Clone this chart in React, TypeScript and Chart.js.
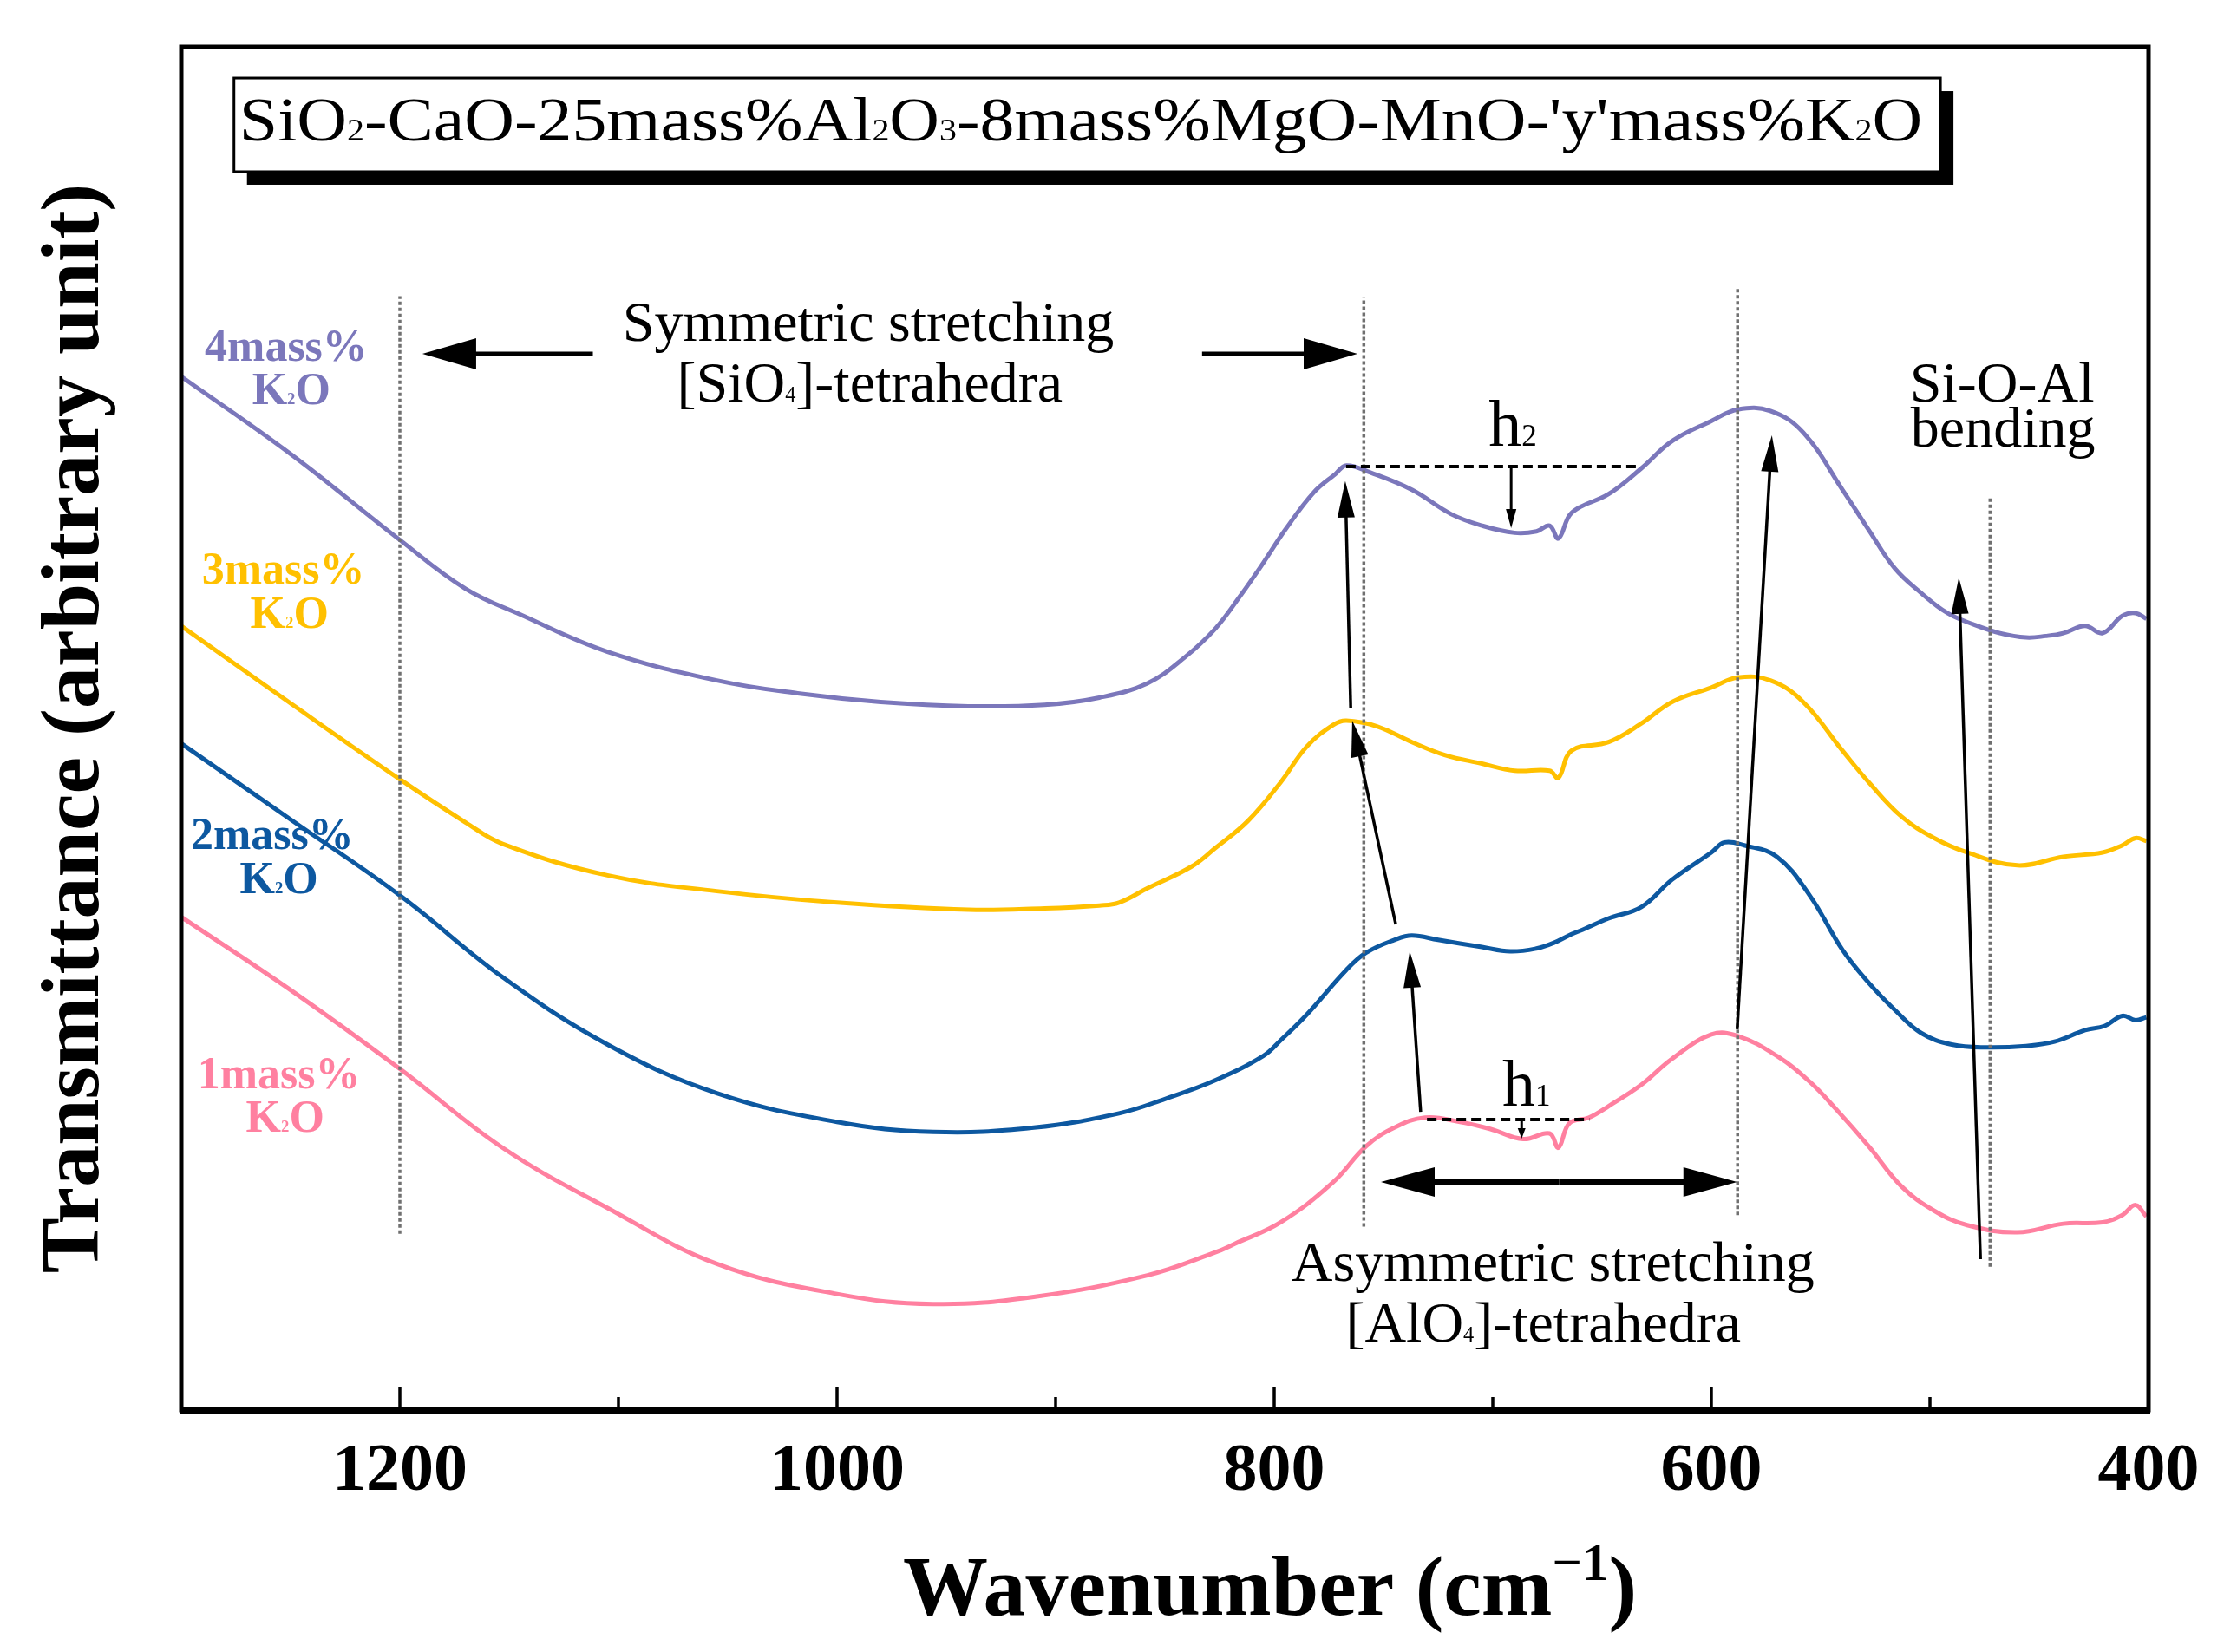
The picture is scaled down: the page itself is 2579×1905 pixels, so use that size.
import React, { useEffect, useRef } from 'react';
import { Chart, registerables } from 'chart.js';

Chart.register(...registerables);

const FONT = "'Liberation Serif', 'Times New Roman', serif";

// ---- series data (wavenumber cm-1, transmittance arbitrary units) ----
const wn4 = [1300, 1250, 1200, 1170, 1145, 1105, 1055, 1018, 980, 940, 905, 880, 858, 841, 827, 816, 805, 795, 782, 772, 767, 756, 737, 719, 705, 690, 680, 674, 670, 665, 660, 647, 632, 618, 600, 588, 573, 558, 540, 528, 516, 504, 492, 480, 468, 456, 447, 439, 429, 421, 412, 406, 401];
const t4 = [721, 667, 607, 573, 555, 529, 509, 500, 494, 491, 492, 497, 507, 525, 545, 567, 591, 614, 640, 653, 659, 654, 642, 625, 617, 612, 613, 617, 608, 624, 630, 639, 657, 676, 690, 698, 697, 682, 642, 614, 587, 570, 556, 548, 542, 539, 540, 542, 547, 542, 554, 556, 552];

const wn3 = [1300, 1250, 1200, 1170, 1153, 1105, 1055, 1000, 940, 905, 880, 871, 858, 838, 827, 812, 797, 785, 773, 767, 753, 737, 722, 705, 690, 674, 670, 664, 647, 632, 618, 600, 588, 573, 558, 540, 528, 513, 498, 483, 460, 439, 421, 412, 406, 401];
const t3 = [547, 493, 440, 410, 395, 373, 362, 354, 349, 350, 352, 354, 364, 379, 392, 411, 438, 463, 478, 481, 477, 466, 457, 451, 446, 446, 441, 460, 466, 479, 494, 504, 511, 509, 494, 460, 438, 414, 399, 389, 380, 386, 389, 394, 399, 397];

const wn2 = [1300, 1250, 1200, 1153, 1105, 1055, 1000, 956, 910, 871, 850, 827, 805, 797, 785, 767, 758, 745, 737, 725, 705, 692, 680, 672, 664, 659, 647, 632, 618, 600, 594, 585, 570, 555, 540, 528, 516, 504, 490, 474, 456, 443, 429, 420, 412, 406, 401];
const t2 = [465, 412, 359, 302, 255, 221, 201, 194, 197, 207, 217, 230, 247, 258, 276, 307, 319, 328, 331, 328, 323, 320, 322, 326, 332, 335, 343, 351, 370, 389, 396, 394, 386, 359, 321, 298, 279, 263, 255, 253, 254, 257, 265, 268, 275, 272, 274];

const wn1 = [1300, 1250, 1200, 1153, 1105, 1055, 1000, 956, 910, 858, 827, 818, 797, 773, 758, 745, 731, 715, 701, 686, 674, 670, 665, 656, 647, 632, 618, 600, 588, 570, 555, 543, 528, 513, 498, 483, 460, 439, 421, 412, 406, 401];
const t1 = [344, 293, 238, 183, 141, 102, 81, 74, 79, 94, 110, 116, 131, 159, 184, 197, 204, 201, 196, 189, 193, 183, 200, 204, 212, 227, 245, 262, 261, 247, 229, 210, 184, 156, 139, 129, 124, 130, 131, 136, 143, 135];

const seriesNames = ['4mass%', '3mass%', '2mass%', '1mass%'];
const seriesColors = ['#7B77BB', '#FFC000', '#0D58A0', '#FF80A0'];

// x tick labels shown
const tickLabels = [1200, 1000, 800, 600, 400];
const minorTicks = [1100, 900, 700, 500];

// ---- annotation anchors (data units) ----
const vLines = [
  { v: 1200, y1: 123, y2: 777 },
  { v: 759, y1: 128, y2: 776 },
  { v: 588, y1: 136, y2: 783 },
  { v: 472.5, y1: 100, y2: 636 },
];
const thinArrows = [
  { x1: 733, y1: 208, x2: 738, y2: 320 },
  { x1: 744.4, y1: 338.8, x2: 764.3, y2: 481 },
  { x1: 765, y1: 489.4, x2: 767.5, y2: 648 },
  { x1: 588.2, y1: 265.6, x2: 572.3, y2: 680 },
  { x1: 476.9, y1: 105.3, x2: 486.8, y2: 580.8 },
];
const labelTexts = [
  { s: 'Symmetric stretching', x: 985.7, y: 746 },
  { s: '[SiO_{4}]-tetrahedra', x: 985, y: 703.6 },
  { s: 'Si-O-Al', x: 467, y: 703.6 },
  { s: 'bending', x: 466.6, y: 672.1 },
  { s: 'Asymmetric stretching', x: 672.5, y: 90.1 },
  { s: '[AlO_{4}]-tetrahedra', x: 676.9, y: 47.8 },
];
const seriesLabelPos = [
  { x1: 1252, y1: 732, x2: 1249.7, y2: 701.8 },
  { x1: 1253.3, y1: 576.5, x2: 1250.5, y2: 545.7 },
  { x1: 1258.4, y1: 391.4, x2: 1255.3, y2: 360.6 },
  { x1: 1255.3, y1: 224.4, x2: 1252.5, y2: 194.2 },
];
const titleText = "SiO_{2}-CaO-25mass%Al_{2}O_{3}-8mass%MgO-MnO-'y'mass%K_{2}O";

type Seg = { t: string; k: number };
function parseRich(s: string): Seg[] {
  const segs: Seg[] = [];
  const re = /([_^])\{([^}]*)\}/g;
  let last = 0;
  let m: RegExpExecArray | null;
  while ((m = re.exec(s))) {
    if (m.index > last) segs.push({ t: s.slice(last, m.index), k: 0 });
    segs.push({ t: m[2], k: m[1] === '_' ? 1 : 2 });
    last = re.lastIndex;
  }
  if (last < s.length) segs.push({ t: s.slice(last), k: 0 });
  return segs;
}

function drawRich(ctx: CanvasRenderingContext2D, s: string, x: number, y: number, o: any) {
  const segs = parseRich(s);
  const f = (k: number) => `${o.weight || 'normal'} ${k === 0 ? o.size : o.size * (o.small || 0.5)}px ${FONT}`;
  let w = 0;
  const ws = segs.map((sg) => {
    ctx.font = f(sg.k);
    const ww = ctx.measureText(sg.t).width;
    w += ww;
    return ww;
  });
  const hs = o.width ? o.width / w : 1;
  ctx.save();
  ctx.fillStyle = o.color || '#000';
  ctx.textBaseline = 'alphabetic';
  ctx.textAlign = 'left';
  ctx.translate(x, y);
  if (o.rotate) ctx.rotate(o.rotate);
  if (o.align === 'center') ctx.translate(-(w * hs) / 2, 0);
  ctx.scale(hs, 1);
  let cx = 0;
  segs.forEach((sg, i) => {
    ctx.font = f(sg.k);
    const dy = sg.k === 1 ? o.subDy || 0 : sg.k === 2 ? -(o.supDy || 0) : 0;
    ctx.fillText(sg.t, cx, dy);
    cx += ws[i];
  });
  ctx.restore();
}

function arrow(ctx: CanvasRenderingContext2D, x1: number, y1: number, x2: number, y2: number, lw: number, hl: number, hw: number) {
  const a = Math.atan2(y2 - y1, x2 - x1);
  const bx = x2 - hl * Math.cos(a);
  const by = y2 - hl * Math.sin(a);
  ctx.save();
  ctx.strokeStyle = '#000';
  ctx.fillStyle = '#000';
  ctx.lineWidth = lw;
  ctx.setLineDash([]);
  ctx.beginPath();
  ctx.moveTo(x1, y1);
  ctx.lineTo(bx + 2 * Math.cos(a), by + 2 * Math.sin(a));
  ctx.stroke();
  ctx.beginPath();
  ctx.moveTo(x2, y2);
  ctx.lineTo(bx + (hw / 2) * Math.sin(a), by - (hw / 2) * Math.cos(a));
  ctx.lineTo(bx - (hw / 2) * Math.sin(a), by + (hw / 2) * Math.cos(a));
  ctx.closePath();
  ctx.fill();
  ctx.restore();
}

const annotPlugin = {
  id: 'annot',
  afterDatasetsDraw(chart: any) {
    const { ctx, chartArea, scales } = chart;
    const X = (v: number) => scales.x.getPixelForValue(v);
    const Y = (v: number) => scales.y.getPixelForValue(v);
    ctx.save();
    // dotted guide lines
    ctx.strokeStyle = '#707070';
    ctx.lineWidth = 3.5;
    ctx.setLineDash([4, 3]);
    vLines.forEach((l) => {
      ctx.beginPath();
      ctx.moveTo(X(l.v), Y(l.y1));
      ctx.lineTo(X(l.v), Y(l.y2));
      ctx.stroke();
    });
    // h dashed lines
    ctx.strokeStyle = '#000';
    ctx.lineWidth = 4;
    ctx.setLineDash([11, 6]);
    ctx.beginPath();
    ctx.moveTo(X(767.1), Y(658.2));
    ctx.lineTo(X(632.3), Y(658.2));
    ctx.moveTo(X(730.1), Y(202.7));
    ctx.lineTo(X(655.8), Y(202.7));
    ctx.stroke();
    ctx.restore();

    arrow(ctx, X(691.6), Y(658.2), X(691.6), Y(615.2), 3, 22, 12);
    arrow(ctx, X(686.8), Y(202.7), X(686.8), Y(189.4), 3, 12, 9);

    thinArrows.forEach((a) => arrow(ctx, X(a.x1), Y(a.y1), X(a.x2), Y(a.y2), 3.5, 42, 20));
    // symmetric stretching arrows
    arrow(ctx, X(1111.7), Y(736.8), X(1189.7), Y(736.8), 5, 62, 36);
    arrow(ctx, X(833), Y(736.8), X(761.9), Y(736.8), 5, 62, 36);
    // asymmetric double arrow
    const mid = (751.2 + 588.2) / 2;
    arrow(ctx, X(mid), Y(159.1), X(751.2), Y(159.1), 8, 62, 34);
    arrow(ctx, X(mid), Y(159.1), X(588.2), Y(159.1), 8, 62, 34);

    labelTexts.forEach((t) => {
      drawRich(ctx, t.s, X(t.x), Y(t.y), { size: 66, small: 0.37, align: 'center' });
    });
    drawRich(ctx, 'h_{2}', X(701.9), Y(672.7), { size: 76, small: 0.46 });
    drawRich(ctx, 'h_{1}', X(695.6), Y(212.3), { size: 76, small: 0.46 });

    seriesLabelPos.forEach((p, i) => {
      drawRich(ctx, seriesNames[i], X(p.x1), Y(p.y1), { size: 52, weight: 'bold', align: 'center', color: seriesColors[i] });
      drawRich(ctx, 'K_{2}O', X(p.x2), Y(p.y2), { size: 52, weight: 'bold', small: 0.36, align: 'center', color: seriesColors[i] });
    });

    // title box
    const bx1 = X(1275.9), bx2 = X(495.2), by1 = Y(929.2), by2 = Y(863.9);
    ctx.save();
    ctx.fillStyle = '#000';
    ctx.fillRect(bx1 + 15, by1 + 15, bx2 - bx1, by2 - by1);
    ctx.fillStyle = '#fff';
    ctx.fillRect(bx1, by1, bx2 - bx1, by2 - by1);
    ctx.strokeStyle = '#000';
    ctx.lineWidth = 3;
    ctx.strokeRect(bx1, by1, bx2 - bx1, by2 - by1);
    ctx.restore();
    drawRich(ctx, titleText, X(1273.5), Y(885.7), { size: 71, small: 0.5, width: X(503.5) - X(1273.5) });

    // frame
    ctx.save();
    ctx.strokeStyle = '#000';
    ctx.setLineDash([]);
    ctx.lineWidth = 5;
    ctx.strokeRect(chartArea.left, chartArea.top, chartArea.right - chartArea.left, chartArea.bottom - chartArea.top);
    ctx.lineWidth = 8;
    ctx.beginPath();
    ctx.moveTo(chartArea.left - 2, chartArea.bottom);
    ctx.lineTo(chartArea.right + 2, chartArea.bottom);
    ctx.stroke();
    ctx.lineWidth = 3.5;
    ctx.beginPath();
    [...tickLabels, ...minorTicks].forEach((v) => {
      if (v <= 400 || v >= 1300) return;
      const len = tickLabels.includes(v) ? 27 : 15;
      ctx.moveTo(X(v), chartArea.bottom);
      ctx.lineTo(X(v), chartArea.bottom - len);
    });
    ctx.stroke();
    ctx.restore();

    // axis titles
    drawRich(ctx, 'Transmittance (arbitrary unit)', chartArea.left - 96, (chartArea.top + chartArea.bottom) / 2, {
      size: 96, weight: 'bold', align: 'center', rotate: -Math.PI / 2,
    });
    drawRich(ctx, 'Wavenumber (cm^{\u22121})', X(802), chartArea.bottom + 236, {
      size: 98, weight: 'bold', small: 0.62, supDy: 40, align: 'center',
    });
  },
};

export default function App() {
  const ref = useRef<HTMLCanvasElement>(null);
  useEffect(() => {
    document.body.style.margin = '0';
    document.body.style.overflow = 'hidden';
    const canvas = ref.current!;
    const mk = (wn: number[], t: number[]) => wn.map((x, i) => ({ x, y: t[i] }));
    const all = [mk(wn4, t4), mk(wn3, t3), mk(wn2, t2), mk(wn1, t1)];
    const chart = new Chart(canvas, {
      type: 'line',
      data: {
        datasets: all.map((d, i) => ({
          label: seriesNames[i],
          data: d,
          borderColor: seriesColors[i],
          borderWidth: 5,
          pointRadius: 0,
          tension: 0.4,
          fill: false,
        })),
      },
      options: {
        animation: false,
        responsive: false,
        devicePixelRatio: 1,
        layout: { padding: { left: 209, top: 54, right: 102, bottom: 0 } },
        plugins: { legend: { display: false }, tooltip: { enabled: false } },
        scales: {
          x: {
            type: 'linear',
            min: 400,
            max: 1300,
            reverse: true,
            grid: { display: false, drawTicks: false },
            border: { display: false },
            ticks: {
              stepSize: 100,
              autoSkip: false,
              maxRotation: 0,
              padding: 25,
              color: '#000',
              font: { family: FONT, size: 78, weight: 'bold' },
              callback: (v: any) => (tickLabels.includes(Number(v)) ? String(v) : ''),
            },
            afterFit: (s: any) => {
              s.height = 279;
            },
          },
          y: { display: false, min: 0, max: 951 },
        },
      },
      plugins: [annotPlugin],
    } as any);
    return () => chart.destroy();
  }, []);
  return (
    <div style={{ width: 2579, height: 1905, background: '#fff' }}>
      <canvas ref={ref} width={2579} height={1905} style={{ display: 'block' }} />
    </div>
  );
}
